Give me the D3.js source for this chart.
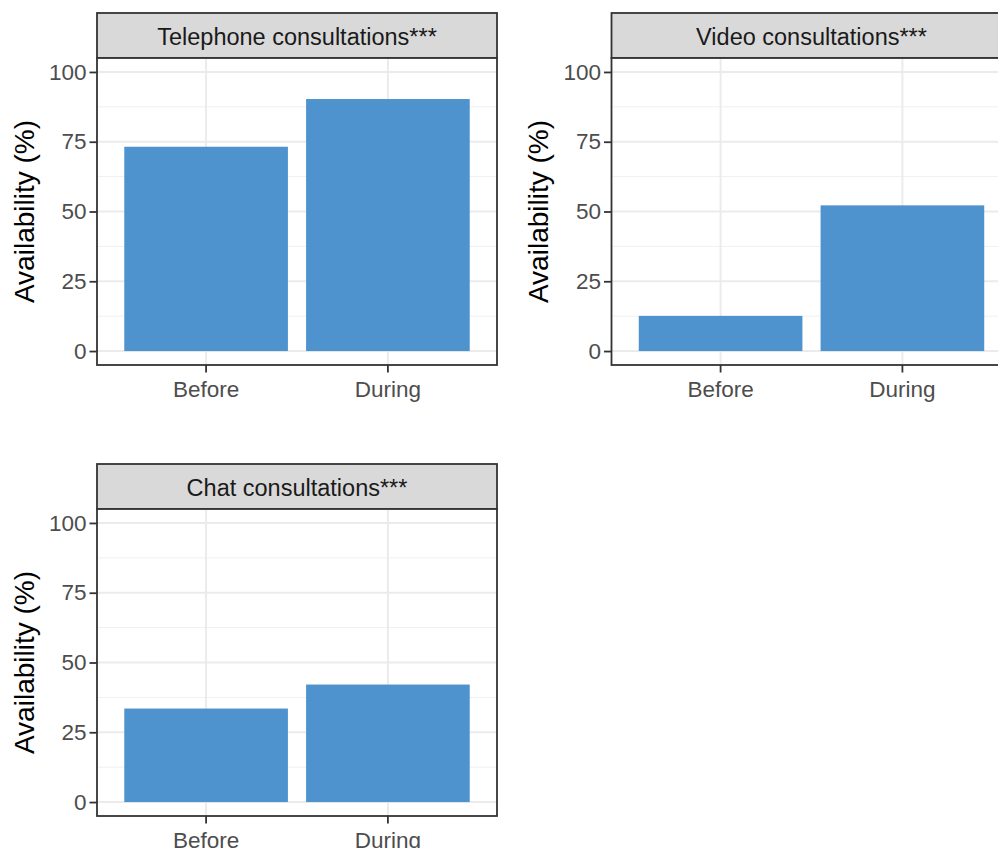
<!DOCTYPE html>
<html>
<head>
<meta charset="utf-8">
<script src="https://cdn.jsdelivr.net/npm/d3@7"></script>
<style>
  html, body { margin: 0; padding: 0; background: #fff; }
  svg { display: block; font-family: "Liberation Sans", Arial, sans-serif; }
</style>
</head>
<body>
<svg id="chart" width="998" height="848"></svg>
<script>
// ---- data ----
const categories = ["Before", "During"];
const panelTitles = ["Telephone consultations***", "Video consultations***", "Chat consultations***"];
const beforeValues = [73.2, 12.6, 33.5];
const duringValues = [90.3, 52.2, 42.1];
const yTicks = [0, 25, 50, 75, 100];
const yMinorTicks = [12.5, 37.5, 62.5, 87.5];
const yTitle = "Availability (%)";

// ---- layout ----
const svg = d3.select("#chart");
const panelW = 400, plotH = 307, stripH = 45;
const panelOrigins = [
  { x: 97, y: 13 },
  { x: 611.5, y: 13 },
  { x: 97, y: 464 }
];

const x = d3.scaleBand().domain(categories).range([0, panelW]).paddingInner(0.1).paddingOuter(0.15);
const y = d3.scaleLinear().domain([-5, 105]).range([plotH, 0]);

panelTitles.forEach((title, i) => {
  const o = panelOrigins[i];
  const g = svg.append("g").attr("transform", `translate(${o.x},${o.y})`);
  const values = [beforeValues[i], duringValues[i]];

  // strip
  g.append("rect").attr("x", 0).attr("y", 0).attr("width", panelW).attr("height", stripH)
    .attr("fill", "#D9D9D9").attr("stroke", "#333333").attr("stroke-width", 1.8);
  g.append("text").attr("x", panelW / 2).attr("y", 32).attr("text-anchor", "middle")
    .attr("font-size", 23.5).attr("fill", "#1A1A1A").text(title);

  const p = g.append("g").attr("transform", `translate(0,${stripH})`);
  p.append("rect").attr("width", panelW).attr("height", plotH).attr("fill", "#fff");

  // minor grid
  p.selectAll(".minor").data(yMinorTicks).join("line")
    .attr("x1", 0).attr("x2", panelW).attr("y1", d => y(d)).attr("y2", d => y(d))
    .attr("stroke", "#F0F0F0").attr("stroke-width", 1);
  // major grid
  p.selectAll(".major").data(yTicks).join("line")
    .attr("x1", 0).attr("x2", panelW).attr("y1", d => y(d)).attr("y2", d => y(d))
    .attr("stroke", "#EBEBEB").attr("stroke-width", 2);
  p.selectAll(".vmajor").data(categories).join("line")
    .attr("x1", d => x(d) + x.bandwidth() / 2).attr("x2", d => x(d) + x.bandwidth() / 2)
    .attr("y1", 0).attr("y2", plotH)
    .attr("stroke", "#EBEBEB").attr("stroke-width", 2);

  // bars
  p.selectAll(".bar").data(categories).join("rect")
    .attr("x", d => x(d)).attr("width", x.bandwidth())
    .attr("y", (d, j) => y(values[j])).attr("height", (d, j) => y(0) - y(values[j]))
    .attr("fill", "#4E93CE");

  // border
  p.append("rect").attr("width", panelW).attr("height", plotH).attr("fill", "none")
    .attr("stroke", "#333333").attr("stroke-width", 1.8);

  // y axis
  const ya = p.append("g").call(d3.axisLeft(y).tickValues(yTicks).tickSize(7.5).tickPadding(3));
  ya.select(".domain").remove();
  ya.selectAll(".tick line").attr("stroke", "#333333").attr("stroke-width", 1.8);
  ya.selectAll(".tick text").attr("font-size", 22.5).attr("fill", "#4D4D4D")
    .attr("font-family", "Liberation Sans, Arial, sans-serif");

  // x axis
  const xa = p.append("g").attr("transform", `translate(0,${plotH})`)
    .call(d3.axisBottom(x).tickSize(7.5).tickPadding(8.5));
  xa.select(".domain").remove();
  xa.selectAll(".tick line").attr("stroke", "#333333").attr("stroke-width", 1.8);
  xa.selectAll(".tick text").attr("font-size", 22.5).attr("fill", "#4D4D4D")
    .attr("font-family", "Liberation Sans, Arial, sans-serif");

  // y title
  p.append("text").attr("transform", `translate(-63.5,${plotH / 2}) rotate(-90)`)
    .attr("text-anchor", "middle").attr("font-size", 28).attr("fill", "#000").text(yTitle);
});
</script>
</body>
</html>
